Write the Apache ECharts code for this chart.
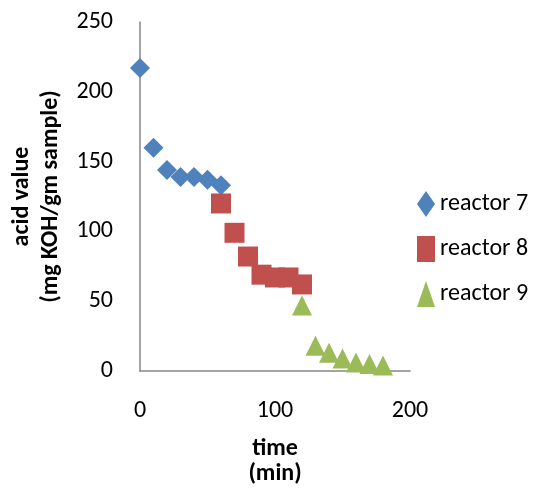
<!DOCTYPE html>
<html>
<head>
<meta charset="utf-8">
<script src="https://cdn.jsdelivr.net/npm/echarts@6/dist/echarts.min.js"></script>
<style>
  html, body { margin: 0; padding: 0; background: #fff; }
  #chart { width: 536px; height: 490px; }
</style>
</head>
<body>
<div id="chart"></div>
<script>
// data
var reactor7 = [[0, 217], [10, 160], [20, 144], [30, 139], [40, 139], [50, 137], [60, 133]];
var reactor8 = [[60, 120], [70, 99], [80, 82], [90, 69], [100, 67], [110, 67], [120, 62]];
var reactor9 = [[120, 47], [130, 18], [140, 13], [150, 9], [160, 6], [170, 5], [180, 4]];
var seriesNames = ['reactor 7', 'reactor 8', 'reactor 9'];

var font = 'Carlito, "Liberation Sans", "Open Sans", sans-serif';

var chart = echarts.init(document.getElementById('chart'));

chart.setOption({
  animation: false,
  grid: { left: 140, top: 22, right: 126, bottom: 119, containLabel: false, outerBoundsMode: 'none' },
  legend: {
    orient: 'vertical',
    left: 412,
    top: 186,
    itemGap: 19,
    itemWidth: 18,
    itemHeight: 26,
    textStyle: { fontFamily: font, fontSize: 24, color: '#000' },
    data: seriesNames
  },
  xAxis: {
    type: 'value',
    min: 0, max: 200, interval: 100,
    name: 'time\n(min)',
    nameLocation: 'middle',
    nameGap: 65,
    nameTextStyle: { fontFamily: font, fontSize: 24, fontWeight: 'bold', color: '#000', lineHeight: 25 },
    axisLine: { lineStyle: { color: '#868686', width: 1.5 } },
    axisTick: { show: false },
    splitLine: { show: false },
    axisLabel: { margin: 28, fontFamily: font, fontSize: 24, color: '#000' }
  },
  yAxis: {
    type: 'value',
    min: 0, max: 250, interval: 50,
    name: 'acid value\n(mg KOH/gm sample)',
    nameLocation: 'middle',
    nameGap: 73,
    nameRotate: 90,
    nameTextStyle: { fontFamily: font, fontSize: 24, fontWeight: 'bold', color: '#000', lineHeight: 29 },
    axisLine: { show: true, lineStyle: { color: '#868686', width: 1.5 } },
    axisTick: { show: false },
    splitLine: { show: false },
    axisLabel: { margin: 27, fontFamily: font, fontSize: 24, color: '#000' }
  },
  series: [
    {
      name: seriesNames[0], type: 'scatter', data: reactor7,
      symbol: 'diamond', symbolSize: 20,
      itemStyle: { color: '#4F81BD', opacity: 1 }
    },
    {
      name: seriesNames[1], type: 'scatter', data: reactor8,
      symbol: 'rect', symbolSize: 20,
      itemStyle: { color: '#C0504D', opacity: 1 }
    },
    {
      name: seriesNames[2], type: 'scatter', data: reactor9,
      symbol: 'triangle', symbolSize: 20,
      itemStyle: { color: '#9BBB59', opacity: 1 }
    }
  ]
});
</script>
</body>
</html>
